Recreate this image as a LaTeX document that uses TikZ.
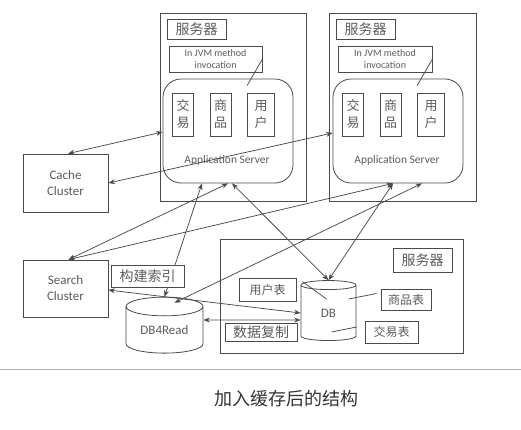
\documentclass[tikz,border=0pt]{standalone}
\usepackage{fontspec}
\setmainfont{Carlito}
\newfontfamily\cjk{Noto Sans CJK SC}
\usetikzlibrary{arrows.meta,calc,shapes.geometric}
\definecolor{linegray}{HTML}{4A4A4A}
\definecolor{textgray}{HTML}{5C5C5C}
\tikzset{
  frame/.style={draw=linegray, line width=0.9pt, inner sep=0pt},
  plainbox/.style={draw=linegray, line width=0.8pt, fill=white, inner sep=0pt,
    text=textgray, align=center},
  hanzi/.style={font=\cjk\fontsize{14}{16}\selectfont},
  smallhanzi/.style={font=\cjk\fontsize{12}{14}\selectfont},
  stackhanzi/.style={font=\cjk\fontsize{13}{17}\selectfont},
  latin/.style={font=\fontsize{13}{16}\selectfont},
  appbox/.style={plainbox, rounded corners=18pt},
  apptext/.style={text=textgray, inner sep=0pt, font=\fontsize{11.5}{13}\selectfont},
  jvmbox/.style={plainbox, font=\fontsize{10}{12}\selectfont, minimum height=26},
  dbcyl/.style={plainbox, cylinder, shape border rotate=90, latin},
  link/.style={linegray, line width=0.75pt, {Stealth[length=6.5pt,width=5pt]}-{Stealth[length=6.5pt,width=5pt]}},
  tie/.style={linegray, line width=0.75pt}
}
\begin{document}
\begin{tikzpicture}[x=1pt, y=-1pt]
            \useasboundingbox (0,0) rectangle (521,429);
            \node[frame, minimum width=146, minimum height=188] (srvA) at (233,107) {};
            \node[frame, minimum width=147, minimum height=188] (srvB) at (402.5,107) {};
            \node[frame, minimum width=243, minimum height=114] (srvDB) at (341.5,296) {};

            \node[plainbox, hanzi, minimum width=59, minimum height=20] (labelA) at (196.5,29) {服务器};
            \node[plainbox, hanzi, minimum width=59, minimum height=20] (labelB) at (365.5,29) {服务器};
            \node[plainbox, hanzi, minimum width=59, minimum height=24] (labelDB) at (422.5,260) {服务器};

            \node[jvmbox, minimum width=93] (jvmA) at (215.5,59) {In JVM method\\invocation};
            \node[jvmbox, minimum width=94] (jvmB) at (385,59) {In JVM method\\invocation};

            \node[appbox, minimum width=130, minimum height=104] (appA) at (228,131) {};
            \node[appbox, minimum width=130, minimum height=104] (appB) at (398,131) {};
            \node[apptext] (appTextA) at ($(appA.south)+(-1,-23)$) {Application Server};
            \node[apptext] (appTextB) at ($(appB.south)+(-1,-23)$) {Application Server};

            \node[plainbox, stackhanzi, minimum width=21, minimum height=43] (tradeA) at (183,114.5) {交\\易};
            \node[plainbox, stackhanzi, minimum width=21, minimum height=43] (goodsA) at (220.5,114.5) {商\\品};
            \node[plainbox, stackhanzi, minimum width=27, minimum height=43] (userA) at (261,114.5) {用\\户};
            \node[plainbox, stackhanzi, minimum width=21, minimum height=43] (tradeB) at (353,114.5) {交\\易};
            \node[plainbox, stackhanzi, minimum width=21, minimum height=43] (goodsB) at (390.5,114.5) {商\\品};
            \node[plainbox, stackhanzi, minimum width=27, minimum height=43] (userB) at (431,114.5) {用\\户};

            \draw[tie] (jvmA.east) -- ($(userA.north west)+(0,-7)$);
            \draw[tie] (jvmB.east) -- ($(userB.north west)+(0,-7)$);

            \node[plainbox, latin, minimum width=85, minimum height=58] (cache) at (65.5,183) {Cache\\Cluster};
            \node[plainbox, latin, minimum width=85, minimum height=57] (search) at (65.5,288.5) {Search\\Cluster};

            \node[dbcyl, aspect=0.39, minimum width=77, minimum height=56] (db4r) at (164.5,330) {DB4Read};
            \node[dbcyl, aspect=0.6, minimum width=55, minimum height=60] (db) at (328.5,313) {DB};

            \node[plainbox, smallhanzi, minimum width=57, minimum height=23] (userT) at (267.5,289.5) {用户表};
            \node[plainbox, smallhanzi, minimum width=50, minimum height=21] (goodsT) at (406,299.5) {商品表};
            \node[plainbox, smallhanzi, minimum width=53, minimum height=22] (tradeT) at (391.5,332) {交易表};
            \node[plainbox, hanzi, minimum width=72, minimum height=18] (copy) at (261,332) {数据复制};

            \draw[tie] ($(userT.north east)+(6,4)$) -- ($(db.center)+(-2,-14)$);
            \draw[tie] ($(goodsT.west)+(-4,-6)$) -- ($(db.center)+(20,-14)$);
            \draw[tie] ($(tradeT.west)+(-8,-5)$) -- ($(db.center)+(3,19)$);

            \draw[link] ($(cache.north)+(2.5,0)$) -- ($(appA.west)+(0,1)$);
            \draw[link] (cache.east) -- ($(appB.west)+(0,2)$);
            \draw[link] ($(search.north)+(3,0)$) -- (appA.south);
            \draw[link] ($(search.north)+(3,0)$) -- ($(appB.south)+(-5,0)$);
            \draw[link] (db4r.north) -- ($(appA.south)+(-26,0)$);
            \draw[link] ($(appA.south)+(4,0)$) -- (db.north);
            \draw[link] (db.north) -- ($(appB.south)+(-5,0)$);
            \draw[link] ($(appB.south)+(24,0)$) -- ($(db4r.north)+(10,6)$);
            \draw[link] ($(search.east)+(0,1.5)$) -- (db.west);
            \draw[link] ($(db4r.east)+(0,-10)$) -- ($(db.west)+(0,7)$);

            \node[plainbox, hanzi, minimum width=73, minimum height=22] (index) at (147.5,276) {构建索引};

            \draw[black!30, line width=0.8pt] (0,369) -- (521,369);
            \node[font=\cjk\fontsize{18}{20}\selectfont, text=black!80] (caption) at (286,399) {加入缓存后的结构};
\end{tikzpicture}
\end{document}
